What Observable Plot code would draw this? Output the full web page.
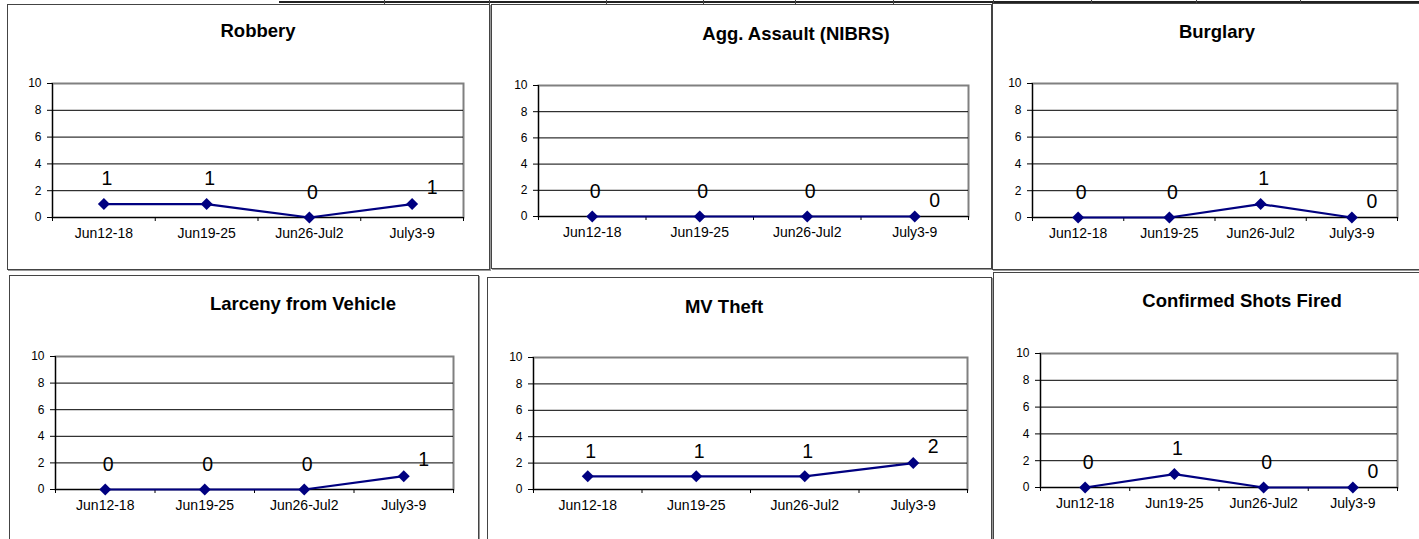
<!DOCTYPE html>
<html>
<head>
<meta charset="utf-8">
<script src="https://cdn.jsdelivr.net/npm/d3@7"></script>
<script src="https://cdn.jsdelivr.net/npm/@observablehq/plot@0.6"></script>
<style>
  html, body { margin: 0; padding: 0; background: #fff; }
  #page { position: relative; width: 1419px; height: 539px; overflow: hidden; background: #fff;
          font-family: "Liberation Sans", Arial, sans-serif; }
  .panel { position: absolute; box-sizing: border-box; border: 1px solid #444; box-shadow: 1px 1px 0 #999; background: #fff; }
  .title { position: absolute; font-weight: bold; font-size: 18.5px; line-height: 18.5px; white-space: nowrap;
           transform: translateX(-50%); color: #000; }
  .tline { position: absolute; background: #222; }
  .ttick { position: absolute; width: 1px; height: 4px; top: 0; background: #444; }
  svg.chart { position: absolute; }
</style>
</head>
<body>
<div id="page"></div>
<script>
// ---- data ----
const weeks = ["Jun12-18", "Jun19-25", "Jun26-Jul2", "July3-9"];
const robbery = [1, 1, 0, 1];
const aggAssault = [0, 0, 0, 0];
const burglary = [0, 0, 1, 0];
const larcenyFromVehicle = [0, 0, 0, 1];
const mvTheft = [1, 1, 1, 2];
const confirmedShotsFired = [0, 1, 0, 0];
const yTicks = [0, 2, 4, 6, 8, 10];
const titles = ["Robbery", "Agg. Assault (NIBRS)", "Burglary", "Larceny from Vehicle", "MV Theft", "Confirmed Shots Fired"];
const series = [robbery, aggAssault, burglary, larcenyFromVehicle, mvTheft, confirmedShotsFired];

// ---- layout (page pixels) ----
// box: [left, top, right, bottom], plot: [left, right, top, bottom], title: [centerX, baseline]
const layout = [
  {box: [7, 4, 490, 270],    plot: [52, 463, 83, 217],    title: [258, 37]},
  {box: [491, 4, 992, 269],  plot: [538, 968, 85, 216],   title: [796, 40]},
  {box: [992, 3, 1440, 270], plot: [1032, 1397, 83, 217], title: [1217, 38]},
  {box: [9, 275, 479, 570],  plot: [55, 453, 356, 489],   title: [303, 310]},
  {box: [487, 277, 992, 570],plot: [533, 967, 357, 489],  title: [724, 313]},
  {box: [993, 272, 1440, 570],plot: [1040, 1397, 353, 487], title: [1242, 307]}
];

const page = document.getElementById("page");

// table lines peeking at the top
const tl = document.createElement("div");
tl.className = "tline";
Object.assign(tl.style, {left: "279px", top: "1px", width: "1140px", height: "2px"});
page.appendChild(tl);
[384, 489, 606, 703, 795, 893, 993, 1091, 1196, 1300].forEach(x => {
  const t = document.createElement("div");
  t.className = "ttick";
  t.style.left = x + "px";
  page.appendChild(t);
});

const mL = 50, mR = 22, mT = 10, mB = 30;
const bounds = [-0.5, 0.5, 1.5, 2.5, 3.5];
const navy = "#000080";

series.forEach((vals, k) => {
  const L = layout[k];
  const [bl, bt, br, bb] = L.box;
  const panel = document.createElement("div");
  panel.className = "panel";
  Object.assign(panel.style, {left: bl + "px", top: bt + "px", width: (br - bl) + "px", height: (bb - bt) + "px"});
  page.appendChild(panel);

  const [pl, pr, pt, pb] = L.plot;
  const data = weeks.map((w, i) => ({i, w, v: vals[i]}));
  const chart = Plot.plot({
    width: (pr - pl) + mL + mR,
    height: (pb - pt) + mT + mB,
    marginLeft: mL, marginRight: mR, marginTop: mT, marginBottom: mB,
    style: {fontFamily: '"Liberation Sans", Arial, sans-serif', color: "#000", background: "transparent", overflow: "visible"},
    x: {type: "linear", domain: [-0.5, 3.5], axis: null},
    y: {domain: [0, 10], axis: null},
    marks: [
      Plot.frame({stroke: "#808080", strokeWidth: 2}),
      Plot.ruleY([2, 4, 6, 8], {stroke: "#000", strokeWidth: 1}),
      Plot.ruleY([0], {stroke: "#000", strokeWidth: 1}),
      Plot.ruleX([-0.5], {stroke: "#000", strokeWidth: 1}),
      Plot.axisY({ticks: yTicks, tickSize: 5, tickPadding: 6, fontSize: 12, label: null, tickFormat: d => String(d)}),
      Plot.axisX({ticks: bounds, tickSize: 4, tickFormat: () => "", label: null}),
      Plot.axisX({ticks: [0, 1, 2, 3], tickSize: 0, tickPadding: 11, fontSize: 14, label: null, tickFormat: i => weeks[i]}),
      Plot.line(data, {x: "i", y: "v", stroke: navy, strokeWidth: 2.2}),
      Plot.dot(data, {x: "i", y: "v", symbol: "diamond2", r: 5.4, fill: navy, stroke: "none"}),
      Plot.text(data.slice(0, 3), {x: "i", y: "v", text: d => String(d.v), dx: 3, dy: -25, fontSize: 19.5, fill: "#000"}),
      Plot.text(data.slice(3), {x: "i", y: "v", text: d => String(d.v), dx: 20, dy: -16, fontSize: 19.5, fill: "#000"})
    ]
  });
  chart.classList.add("chart");
  chart.style.left = (pl - mL) + "px";
  chart.style.top = (pt - mT) + "px";
  page.appendChild(chart);

  const t = document.createElement("div");
  t.className = "title";
  t.textContent = titles[k];
  t.style.left = L.title[0] + "px";
  t.style.top = (L.title[1] - 15) + "px";
  page.appendChild(t);
});
</script>
</body>
</html>
